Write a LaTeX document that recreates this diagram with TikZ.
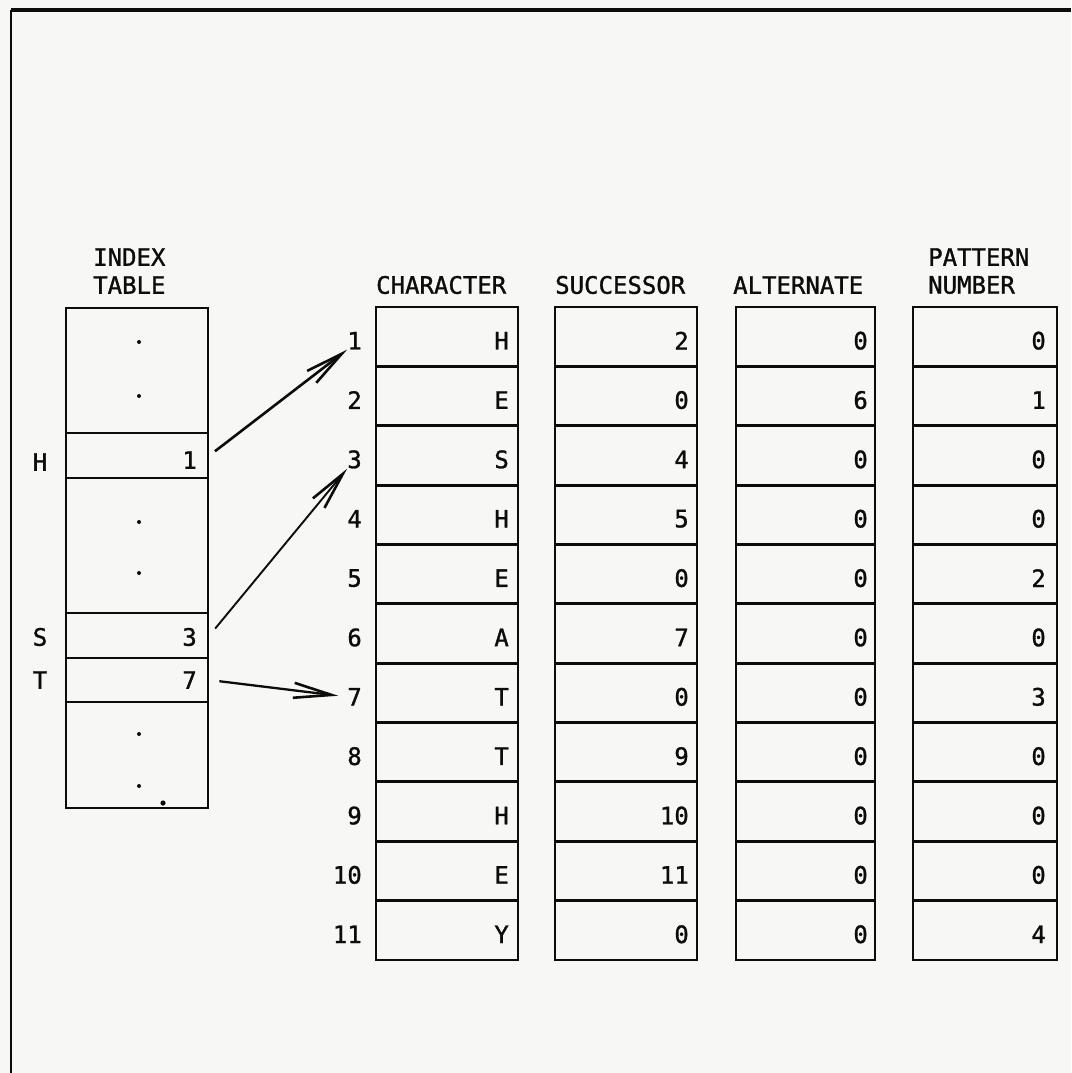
\documentclass[tikz,border=0pt]{standalone}
\usepackage{fontspec}
\setmainfont{DejaVu Sans Mono}[FakeBold=1.2]
\usetikzlibrary{arrows.meta}
\definecolor{paper}{RGB}{247,247,245}
\definecolor{ink}{RGB}{12,12,12}
\begin{document}
\begin{tikzpicture}[x=1pt,y=-1pt,
  cellline/.style={line width=2.9pt, draw=ink},
  lbl/.style={inner sep=0pt, text=ink, font=\fontsize{24}{26}\selectfont},
  val/.style={lbl, anchor=east},
  hdr/.style={lbl, anchor=west},
  ptr/.style={draw=ink, line width=2.6pt, -{Straight Barb[length=38pt,width=15pt,line width=2.6pt]}},
  idxcell/.style={cellline, draw, minimum width=142pt, inner sep=0pt}]
% page
\fill[paper] (0,0) rectangle (1071,1073);
\useasboundingbox (0,0) rectangle (1071,1073);
% frame
\draw[ink, line width=3.2pt] (11,10) -- (1071,10);
\draw[ink, line width=2.6pt] (11,10) -- (11,1073);
% headers
\node[hdr] (hidx) at (93,257) {INDEX};
\node[hdr] (htab) at (93,285) {TABLE};
\node[hdr] (hchr) at (376,285) {CHARACTER};
\node[hdr] (hsuc) at (555,285) {SUCCESSOR};
\node[hdr] (halt) at (733,285) {ALTERNATE};
\node[hdr] (hpat) at (928,257) {PATTERN};
\node[hdr] (hnum) at (928,285) {NUMBER};
% index table
\draw[cellline] (66,308) rectangle (208,808);
\node[idxcell, minimum height=45pt] (ih) at (137,455.5) {};
\node[idxcell, minimum height=45pt] (is) at (137,635.5) {};
\node[idxcell, minimum height=44pt] (it) at (137,680) {};
\node[val] (ihv) at (197,460) {1};
\node[val] (isv) at (197,637) {3};
\node[val] (itv) at (197,680) {7};
\node[lbl] (ihl) at (40,462) {H};
\node[lbl] (isl) at (40,637) {S};
\node[lbl] (itl) at (40,680) {T};
\foreach \yy in {342,396,522,573,734,786}
  \fill[ink] (139,\yy) circle (2pt);
\fill[ink] (163,803) circle (2.6pt);
% main tables
\foreach \xl/\xr in {376/518, 555/697, 736/875, 913/1057} {
  \draw[cellline] (\xl,307) rectangle (\xr,960);
  \foreach \k in {1,...,10}
    \draw[cellline] (\xl,{307+\k*59.36}) -- (\xr,{307+\k*59.36});
}
\foreach \i/\ch/\su/\al/\pa in {1/H/2/0/0, 2/E/0/6/1, 3/S/4/0/0, 4/H/5/0/0,
  5/E/0/0/2, 6/A/7/0/0, 7/T/0/0/3, 8/T/9/0/0, 9/H/10/0/0, 10/E/11/0/0, 11/Y/0/0/4} {
  \pgfmathsetmacro\yy{307+(\i-0.5)*59.36+4}
  \node[val] (r\i) at (362,\yy) {\i};
  \node[val] (c\i) at (509,\yy) {\ch};
  \node[val] (s\i) at (689,\yy) {\su};
  \node[val] (a\i) at (868,\yy) {\al};
  \node[val] (p\i) at (1046,\yy) {\pa};
}
% pointers
\draw[ptr, shorten <=7pt] (ih.east) -- (r1.south west);
\draw[ptr, line width=1.9pt, shorten <=9pt] (is.east) -- (r3.south west);
\draw[ptr, line width=2.3pt, shorten <=10pt, shorten >=9pt] (it.east) -- (r7.west);
\end{tikzpicture}
\end{document}
